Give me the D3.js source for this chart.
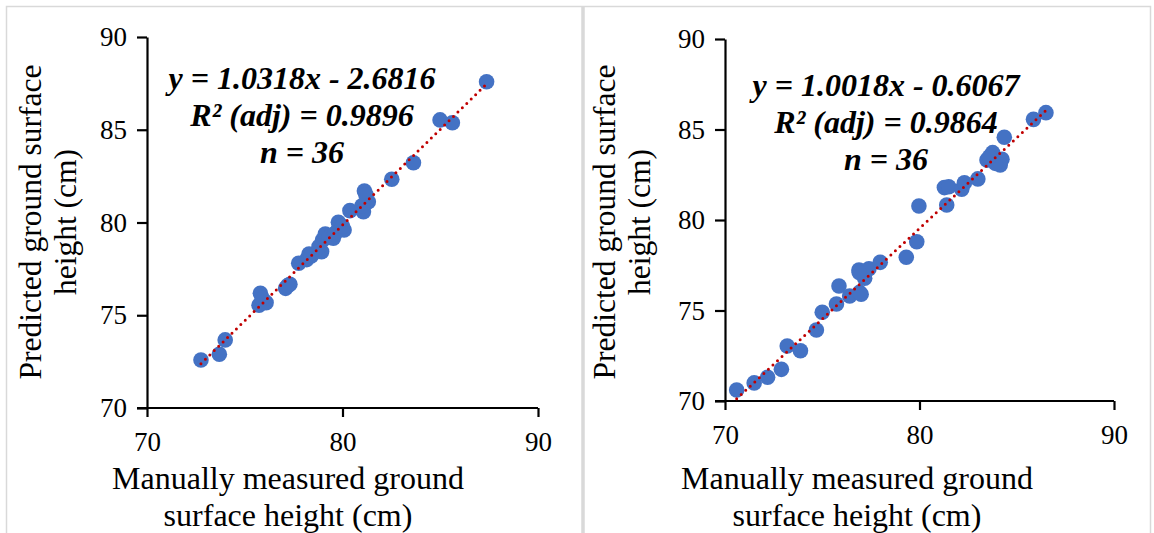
<!DOCTYPE html>
<html>
<head>
<meta charset="utf-8">
<script src="https://cdn.jsdelivr.net/npm/d3@7"></script>
<style>
  body { margin: 0; background: #fff; }
  svg { display: block; }
</style>
</head>
<body>
<div id="chart"></div>
<script>
// left panel data (manually measured vs predicted)
const leftX = [72.76, 73.7, 74.0, 75.73, 75.8, 76.09, 77.09, 77.31, 77.76, 78.17, 78.29, 78.93,
  78.98, 79.12, 79.53, 79.75, 79.79, 80.08, 80.38, 81.07, 81.32, 81.12, 82.52, 83.63,
  84.99, 85.62, 87.37, 78.4, 79.3, 79.6, 81.2, 81.0, 75.9, 77.2, 78.8, 80.0];
const leftY = [72.59, 72.9, 73.67, 75.54, 76.18, 75.68, 76.45, 76.67, 77.8, 78.0, 78.3, 78.43,
  79.06, 79.38, 79.15, 79.56, 80.01, 79.6, 80.64, 80.58, 81.12, 81.7, 82.33, 83.22,
  85.53, 85.38, 87.59, 78.2, 79.2, 79.4, 81.5, 80.9, 75.9, 76.6, 78.7, 79.8];

// right panel data
const rightX = [70.6, 71.5, 72.19, 72.9, 73.2, 73.88, 74.7, 75.0, 75.73, 75.86, 76.41, 76.92,
  77.18, 76.89, 77.4, 77.98, 79.32, 79.86, 79.97, 81.28, 81.5, 81.4, 82.17, 82.31,
  83.0, 83.47, 83.76, 84.24, 84.15, 83.9, 84.36, 85.86, 86.5, 76.9, 83.6, 77.0];
const rightY = [70.61, 71.0, 71.31, 71.75, 73.04, 72.78, 73.92, 74.9, 75.36, 76.35, 75.8, 76.0,
  76.78, 77.24, 77.31, 77.66, 77.94, 78.8, 80.77, 81.79, 81.84, 80.83, 81.7, 82.06,
  82.27, 83.31, 83.72, 83.35, 83.04, 83.13, 84.57, 85.56, 85.93, 77.1, 83.5, 75.9];

const axisTicks = [70, 80, 90];
const yTicks = [70, 75, 80, 85, 90];
const xTitle = ["Manually measured ground", "surface height (cm)"];
const yTitle = ["Predicted ground surface", "height (cm)"];

const panels = [
  { xs: leftX, ys: leftY, slope: 1.0318, icpt: -2.6816,
    eq: ["y = 1.0318x - 2.6816", "R² (adj) = 0.9896", "n = 36"],
    x0: 147, x1: 538, y0: 408, y1: 37, eqX: 302, eqY: 89, ytX: 31, xtX: 288 },
  { xs: rightX, ys: rightY, slope: 1.0018, icpt: -0.6067,
    eq: ["y = 1.0018x - 0.6067", "R² (adj) = 0.9864", "n = 36"],
    x0: 725, x1: 1114, y0: 401, y1: 39, eqX: 886, eqY: 96, ytX: 605, xtX: 857 }
];

const W = 1154, H = 533;
const serif = "Liberation Serif, DejaVu Serif, Times New Roman, serif";

const svg = d3.select("#chart").append("svg")
  .attr("width", W).attr("height", H)
  .attr("font-family", serif);

// outer frame and divider
svg.append("rect").attr("x", 6.5).attr("y", 6.5).attr("width", W - 10).attr("height", H - 4)
  .attr("fill", "none").attr("stroke", "#d9d9d9").attr("stroke-width", 1.5);
svg.append("line").attr("x1", 583).attr("x2", 583).attr("y1", 6).attr("y2", H)
  .attr("stroke", "#d9d9d9").attr("stroke-width", 3.5);

panels.forEach(p => {
  const x = d3.scaleLinear().domain([70, 90]).range([p.x0, p.x1]);
  const y = d3.scaleLinear().domain([70, 90]).range([p.y0, p.y1]);
  const g = svg.append("g");

  // axes
  const xa = g.append("g").attr("transform", `translate(0,${p.y0})`)
    .call(d3.axisBottom(x).tickValues(axisTicks).tickSize(9).tickSizeOuter(0).tickPadding(15));
  const ya = g.append("g").attr("transform", `translate(${p.x0},0)`)
    .call(d3.axisLeft(y).tickValues(yTicks).tickSize(10).tickSizeOuter(0).tickPadding(10));
  [xa, ya].forEach(a => {
    a.attr("font-family", serif).attr("font-size", 27);
    a.selectAll("path, line").attr("stroke", "#000").attr("stroke-width", 2.2);
    a.selectAll("text").attr("fill", "#000");
  });
  // x axis line extends left as in the original
  xa.select(".domain").attr("d", `M${p.x0 - 10},0H${p.x1}`);

  // points
  const pts = d3.zip(p.xs, p.ys);
  g.append("g").selectAll("circle").data(pts).join("circle")
    .attr("cx", d => x(d[0])).attr("cy", d => y(d[1])).attr("r", 7.8)
    .attr("fill", "#4472c4");

  // dotted trend line
  const ext = d3.extent(p.xs);
  g.append("path")
    .datum(ext.map(v => [v, p.slope * v + p.icpt]))
    .attr("d", d3.line().x(d => x(d[0])).y(d => y(d[1])))
    .attr("fill", "none").attr("stroke", "#c00000").attr("stroke-width", 3)
    .attr("stroke-linecap", "round").attr("stroke-dasharray", "0 6.2");

  // equation
  g.append("text").attr("text-anchor", "middle")
    .attr("font-family", serif).attr("font-size", 32)
    .attr("font-weight", "bold").attr("font-style", "italic")
    .selectAll("tspan").data(p.eq).join("tspan")
    .attr("x", p.eqX).attr("y", (d, i) => p.eqY + i * 37).text(d => d);

  // x title
  g.append("text").attr("text-anchor", "middle")
    .attr("font-family", serif).attr("font-size", 32)
    .selectAll("tspan").data(xTitle).join("tspan")
    .attr("x", p.xtX).attr("y", (d, i) => 489 + i * 37).text(d => d);

  // y title
  g.append("text").attr("text-anchor", "middle")
    .attr("transform", `translate(${p.ytX},222) rotate(-90)`)
    .attr("font-family", serif).attr("font-size", 31.5)
    .selectAll("tspan").data(yTitle).join("tspan")
    .attr("x", 0).attr("y", (d, i) => 10 + i * 35).text(d => d);
});
</script>
</body>
</html>
